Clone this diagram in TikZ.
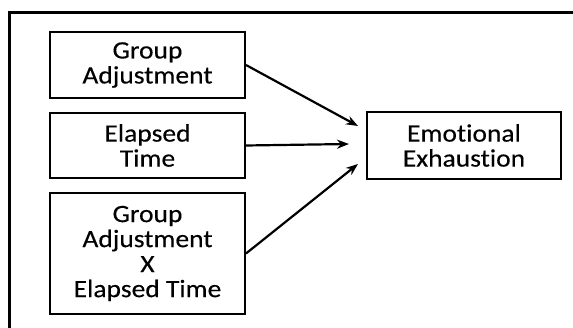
\documentclass[tikz,border=0pt]{standalone}
\usepackage{fontspec}
\setmainfont{Carlito}[FakeStretch=1.1, FakeBold=0.3, Ligatures=NoCommon]
\usetikzlibrary{arrows.meta}
\begin{document}
\begin{tikzpicture}[x=1pt,y=-1pt,
  varbox/.style={draw, line width=2pt, minimum width=195pt, align=center,
    inner sep=0pt, font=\fontsize{25}{25}\selectfont},
  path/.style={line width=2.2pt, -{Stealth[length=12pt,width=9pt]}},
  frameline/.style={line width=3pt}]
  \useasboundingbox (0,0) rectangle (573,328);
  % open frame: top and left edges only
  \draw[frameline] (573,13) -- (9.5,13) -- (9.5,328);
  % predictor boxes
  \node[varbox, minimum height=66pt] (ga) at (147.5,65) {Group\\Adjustment};
  \node[varbox, minimum height=65pt] (et) at (147.5,145.5) {Elapsed\\Time};
  \node[varbox, minimum height=121pt] (gx) at (147.5,253.5) {Group\\Adjustment\\X\\Elapsed Time};
  % outcome box
  \node[varbox, minimum width=194pt, minimum height=67pt] (ee) at (464,145.5) {Emotional\\Exhaustion};
  % arrow tips stop short of the outcome box
  \coordinate (t1) at (358,126);
  \coordinate (t2) at (349,144);
  \coordinate (t3) at (358,164);
  \draw[path] (ga.east) -- (t1);
  \draw[path] (et.east) -- (t2);
  \draw[path] (gx.east) -- (t3);
\end{tikzpicture}
\end{document}
